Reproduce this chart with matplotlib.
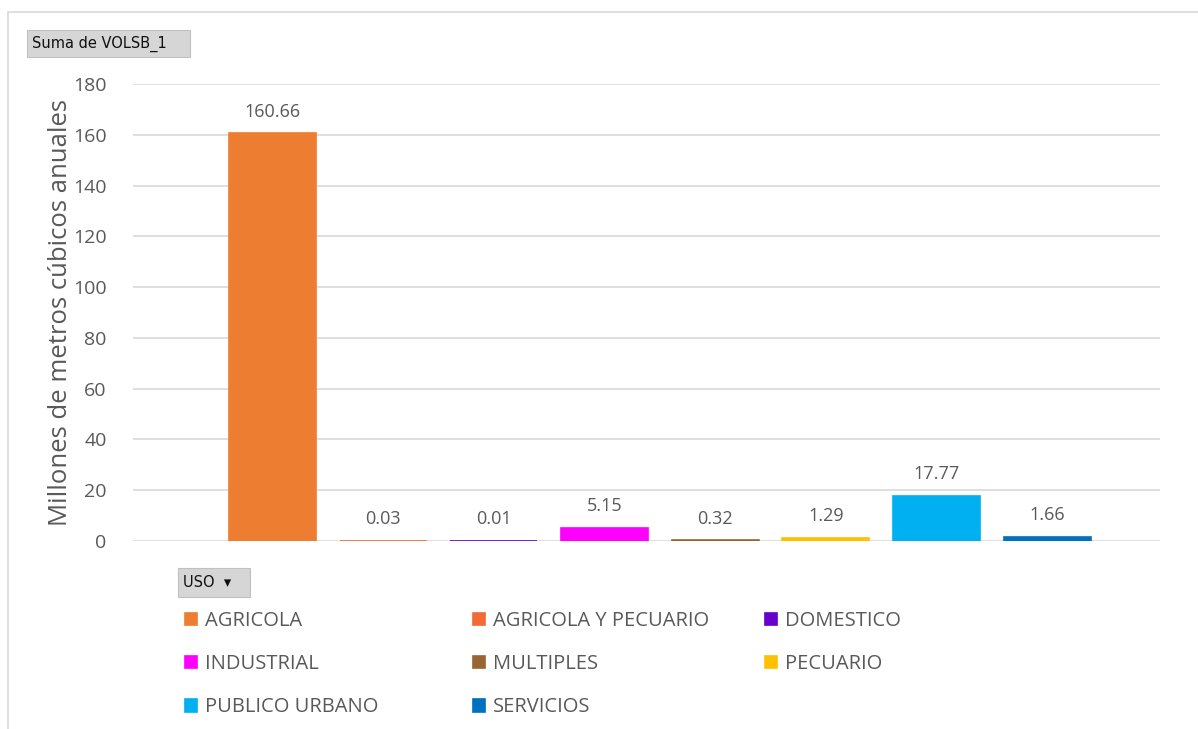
import matplotlib.pyplot as plt
from matplotlib.patches import Rectangle
import numpy as np

usos = ["AGRICOLA", "AGRICOLA Y PECUARIO", "DOMESTICO", "INDUSTRIAL",
        "MULTIPLES", "PECUARIO", "PUBLICO URBANO", "SERVICIOS"]
volumen = [160.66, 0.03, 0.01, 5.15, 0.32, 1.29, 17.77, 1.66]
colores = ["#ED7D31", "#F26A35", "#6600CC", "#FF00FF",
           "#996633", "#FFC000", "#00B0F0", "#0070C0"]
y_ticks = [0, 20, 40, 60, 80, 100, 120, 140, 160, 180]

TXT = "#595959"
W, H = 1198, 729

plt.rcParams["font.family"] = ["Open Sans", "DejaVu Sans"]

fig = plt.figure(figsize=(W / 100, H / 100), dpi=100)

# outer chart border (light gray)
fig.add_artist(Rectangle((8 / W, -0.01), 1.2, 1 - 12 / H + 0.01,
                         transform=fig.transFigure, fill=False,
                         edgecolor="#d9d9d9", linewidth=1.2))

ax = fig.add_axes([133 / W, 1 - 541 / H, (1160 - 133) / W, (541 - 84) / H])

x = np.arange(len(usos))
# thin edge so the near-zero bars still show as a line, like Excel does
bars = ax.bar(x, volumen, width=0.785, color=colores, edgecolor=colores,
              linewidth=1.2, zorder=3)

for xi, v in zip(x, volumen):
    ax.annotate(f"{v:.2f}", (xi, v), xytext=(0, 9), textcoords="offset points",
                ha="center", va="bottom", fontsize=13, color=TXT)

ax.set_xlim(-1.26, 8.02)
ax.set_ylim(0, 180)
ax.set_yticks(y_ticks)
ax.set_xticks([])
ax.tick_params(axis="y", length=0, labelsize=14, labelcolor=TXT, pad=19)
ax.grid(axis="y", color="#d9d9d9", linewidth=1.2, zorder=0)
for s in ax.spines.values():
    s.set_visible(False)
ax.set_ylabel("Millones de metros cúbicos anuales", fontsize=18.5, color=TXT,
              labelpad=0)

# pivot field buttons
def boton(x0, y0, x1, y1, texto, fs):
    fig.add_artist(Rectangle((x0 / W, 1 - y1 / H), (x1 - x0) / W, (y1 - y0) / H,
                             transform=fig.transFigure, facecolor="#d6d6d6",
                             edgecolor="#c0c0c0", linewidth=0.8))
    fig.text((x0 + 5) / W, 1 - (y0 + y1) / 2 / H, texto, fontsize=fs,
             color="#111111", va="center", ha="left",
             family=["DejaVu Sans"])

boton(27, 30, 190, 57, "Suma de VOLSB_1", 10.5)
boton(178, 568, 250, 597, "USO  ▾", 10.5)

# legend: three columns, row-major order like the original
col_x = [185, 473, 765]
for c in range(3):
    idx = [i for i in range(len(usos)) if i % 3 == c]
    fig.legend([bars[i] for i in idx], [usos[i] for i in idx],
               loc="upper left", bbox_to_anchor=(col_x[c] / W, 1 - 611 / H),
               frameon=False, fontsize=14.5, labelcolor=TXT,
               handlelength=0.6, handleheight=0.6, handletextpad=0.4,
               labelspacing=1.15, borderpad=0, borderaxespad=0)

fig.savefig("out.png", dpi=100)
